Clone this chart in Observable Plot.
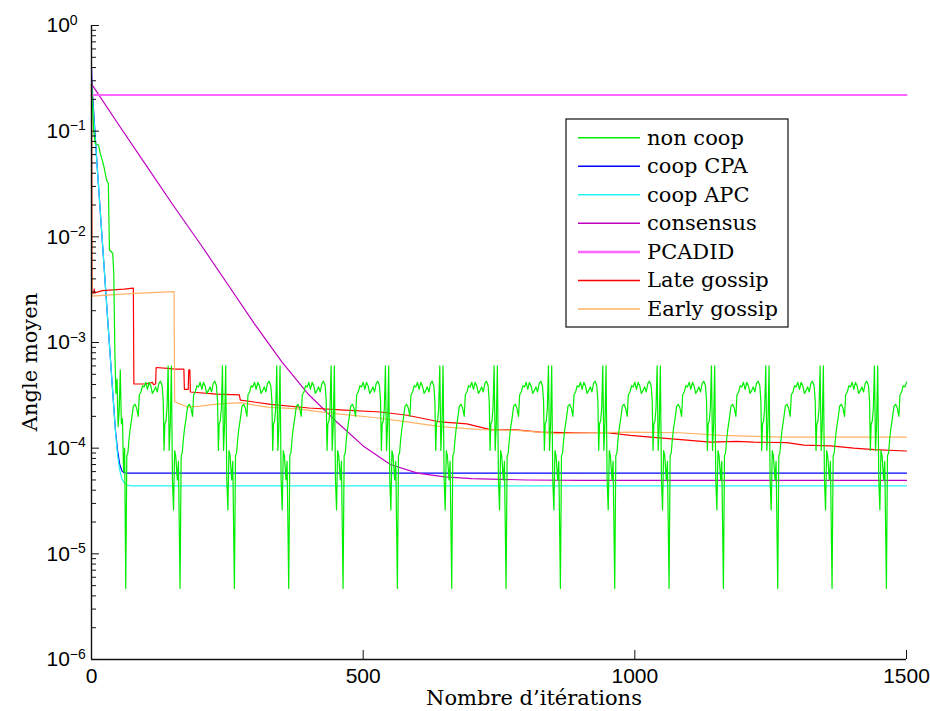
<!DOCTYPE html>
<html><head><meta charset="utf-8">
<script src="https://cdn.jsdelivr.net/npm/d3@7"></script>
<script src="https://cdn.jsdelivr.net/npm/@observablehq/plot@0.6"></script>
<style>body{margin:0;background:#fff}</style>
</head><body><div id="chart"></div>
<script>
// ---- data ----
const seriesNames = ["non coop","coop CPA","coop APC","consensus","PCADID","Late gossip","Early gossip"];
const seriesColors = ["#00ee00","#0000ff","#22f4f4","#bf00bf","#ff66ff","#ff0000","#ffb366"];
const xTicks = [0, 500, 1000, 1500];
const yMajor = [1e-6, 1e-5, 1e-4, 1e-3, 1e-2, 1e-1, 1];

// non coop: initial descent, then one repeating cycle (offset t after each deep spike)
const nonCoopStart = [[0,0.28],[2,0.17],[4,0.10],[7,0.076],[13,0.074],[16,0.062],[20,0.053],[23,0.046],[28,0.034],[31,0.032],[33,0.0075],[39,0.007],[41,0.0045],[43,8e-4],[45,3.3e-4],[47,4.5e-4],[49,1.6e-4],[51,2.3e-4],[53,5.5e-4],[55,1.7e-4],[57,1.9e-4],[59,6e-5],[61,1.0e-4]];
const nonCoopSpikes = [63,163,263,363,463,563,663,763,863,963,1063,1163,1263,1363,1463];
const nonCoopCycle = [[0,4.7e-6],[2,8.5e-5],[4,9e-5],[6,1.2e-4],[8,1.5e-4],[11,1.9e-4],[14,2.5e-4],[17,2.6e-4],[20,2.4e-4],[23,2.0e-4],[25,3.2e-4],[28,3.4e-4],[31,3.9e-4],[34,3.8e-4],[37,4.2e-4],[40,3.6e-4],[43,4.2e-4],[46,3.9e-4],[49,3.3e-4],[52,3.5e-4],[55,3.8e-4],[58,3.4e-4],[61,4.1e-4],[64,4.3e-4],[67,3.9e-4],[69,2.8e-4],[70.5,9.5e-5],[72,1.7e-4],[74,1.8e-4],[76,2.4e-4],[78,6e-4],[80,9.5e-5],[82,1.7e-4],[84,6e-4],[86,5e-5],[88,2.6e-5],[90,9.5e-5],[92,8.5e-5],[95,5e-5],[97,7.5e-5]];

const coopCPA = [[0,0.40],[1,0.27],[10,0.05],[20,9e-3],[30,1.6e-3],[40,2.9e-4],[44,1.5e-4],[48,9.5e-5],[52,7e-5],[56,6.1e-5],[60,5.85e-5],[66,5.8e-5],[1500,5.8e-5]];
const coopAPC = [[0,0.28],[10,0.05],[20,9e-3],[30,1.6e-3],[40,2.9e-4],[44,1.45e-4],[48,8.5e-5],[52,6.2e-5],[56,5.1e-5],[60,4.7e-5],[65,4.5e-5],[72,4.4e-5],[1500,4.4e-5]];
const consensus = [[0,0.28],[50,0.115],[100,0.048],[150,0.02],[200,8.6e-3],[250,3.6e-3],[300,1.5e-3],[350,6.6e-4],[400,3.2e-4],[450,1.8e-4],[500,1.05e-4],[550,7.0e-5],[600,5.8e-5],[650,5.35e-5],[700,5.15e-5],[800,5.0e-5],[900,4.95e-5],[1500,4.95e-5]];
const pcadid = [[0,0.22],[1500,0.22]];
const lateGossip = [[0,0.28],[1,2.9e-3],[4,2.95e-3],[5,3.2e-3],[6,2.95e-3],[20,3.1e-3],[40,3.15e-3],[60,3.2e-3],[77,3.27e-3],[78,4.05e-4],[100,4.05e-4],[112,4.2e-4],[114,4.0e-4],[118,4.05e-4],[119,5.8e-4],[140,5.7e-4],[155,5.6e-4],[170,5.6e-4],[171,3.6e-4],[178,3.6e-4],[179,5.5e-4],[181,5.5e-4],[182,3.4e-4],[230,3.25e-4],[272,3.2e-4],[274,2.85e-4],[330,2.6e-4],[400,2.4e-4],[458,2.3e-4],[532,2.2e-4],[581,2.05e-4],[642,1.77e-4],[691,1.7e-4],[734,1.5e-4],[777,1.5e-4],[826,1.42e-4],[888,1.4e-4],[949,1.4e-4],[992,1.32e-4],[1029,1.27e-4],[1096,1.19e-4],[1139,1.14e-4],[1188,1.16e-4],[1219,1.14e-4],[1280,1.13e-4],[1311,1.07e-4],[1360,1.05e-4],[1403,1.0e-4],[1440,9.7e-5],[1500,9.4e-5]];
const earlyGossip = [[0,0.28],[1,2.75e-3],[50,2.85e-3],[100,2.95e-3],[152,3.03e-3],[153,2.75e-4],[165,2.6e-4],[176,2.45e-4],[200,2.5e-4],[225,2.6e-4],[274,2.7e-4],[300,2.55e-4],[324,2.45e-4],[379,2.35e-4],[440,2.15e-4],[458,2.1e-4],[520,1.95e-4],[581,1.77e-4],[642,1.6e-4],[716,1.5e-4],[777,1.48e-4],[857,1.37e-4],[918,1.4e-4],[992,1.42e-4],[1084,1.4e-4],[1158,1.32e-4],[1280,1.27e-4],[1500,1.27e-4]];

// ---- build tables ----
const nonCoop = nonCoopStart.slice();
for (const s of nonCoopSpikes) for (const [t, v] of nonCoopCycle) if (s + t <= 1500) nonCoop.push([s + t, v]);
const toRows = pts => pts.map(([x, y]) => ({x, y}));
const lineStyles = {
  "non coop": {data: nonCoop, w: 1.2},
  "coop CPA": {data: coopCPA, w: 1.2},
  "coop APC": {data: coopAPC, w: 1.2},
  "consensus": {data: consensus, w: 1.2},
  "PCADID": {data: pcadid, w: 2.2},
  "Late gossip": {data: lateGossip, w: 1.2},
  "Early gossip": {data: earlyGossip, w: 1.2}
};
const drawOrder = ["coop CPA","coop APC","consensus","PCADID","Late gossip","Early gossip","non coop"];
const yMinor = yMajor.slice(0, -1).flatMap(d => [2,3,4,5,6,7,8,9].map(m => m * d));

const serif = "'DejaVu Serif', serif";
const sans = "'Liberation Sans', Arial, sans-serif";

const svg = Plot.plot({
  width: 930, height: 711,
  marginLeft: 91, marginRight: 24, marginTop: 25, marginBottom: 52,
  x: {domain: [0, 1500]},
  y: {type: "log", domain: [1e-6, 1]},
  style: {fontFamily: sans, fontSize: "21px", background: "white", color: "black"},
  marks: [
    ...drawOrder.map(n => Plot.line(toRows(lineStyles[n].data), {x: "x", y: "y", stroke: seriesColors[seriesNames.indexOf(n)], strokeWidth: lineStyles[n].w})),
    Plot.ruleX([0], {stroke: "#111", strokeWidth: 1.4}),
    Plot.ruleY([1e-6], {stroke: "#111", strokeWidth: 1.4}),
    Plot.axisY(yMajor, {tickSize: 0, tickPadding: 45, textAnchor: "start", tickFormat: d => "10^" + Math.round(Math.log10(d)), label: null, fontSize: 21}),
    Plot.axisY(yMajor, {tickSize: -8, tickFormat: () => "", label: null, stroke: "#111"}),
    Plot.axisY(yMinor, {tickSize: -5, tickFormat: () => "", label: null, stroke: "#111"}),
    Plot.axisX(xTicks, {tickSize: 0, tickPadding: 9, tickFormat: d => String(d), label: null, fontSize: 21}),
    Plot.axisX(xTicks, {tickSize: -9, tickFormat: () => "", label: null, stroke: "#111"})
  ]
});

const root = d3.select(svg);

// superscript exponents on y tick labels
root.selectAll('g[aria-label="y-axis tick label"] text').each(function () {
  const t = d3.select(this);
  const s = t.text();
  if (!s.includes("^")) return;
  const e = s.split("^")[1].replace("-", "\u2212");
  t.text("10");
  t.append("tspan").attr("dy", "-0.55em").attr("font-size", "14px").text(e);
});

// axis titles
root.append("text").attr("x", 534).attr("y", 698).attr("dy", "0.35em")
  .attr("text-anchor", "middle").attr("font-family", serif).attr("font-size", 21).attr("fill", "black")
  .text("Nombre d’itérations");
root.append("text").attr("transform", "translate(30,362) rotate(-90)").attr("dy", "0.35em")
  .attr("text-anchor", "middle").attr("font-family", serif).attr("font-size", 21).attr("fill", "black")
  .text("Angle moyen");

// legend
const lg = root.append("g").attr("font-family", serif).attr("font-size", 21).attr("text-anchor", "start");
lg.append("rect").attr("x", 566).attr("y", 119).attr("width", 222).attr("height", 208)
  .attr("fill", "white").attr("stroke", "#222").attr("stroke-width", 1.3);
seriesNames.forEach((n, i) => {
  const y = 137.7 + i * 28.55;
  lg.append("line").attr("x1", 578).attr("x2", 640).attr("y1", y).attr("y2", y)
    .attr("stroke", seriesColors[i]).attr("stroke-width", lineStyles[n].w + 0.3);
  lg.append("text").attr("x", 647).attr("y", y).attr("dy", "0.33em").attr("text-anchor", "start").attr("fill", "black").text(n);
});

document.getElementById("chart").appendChild(svg);
</script></body></html>
